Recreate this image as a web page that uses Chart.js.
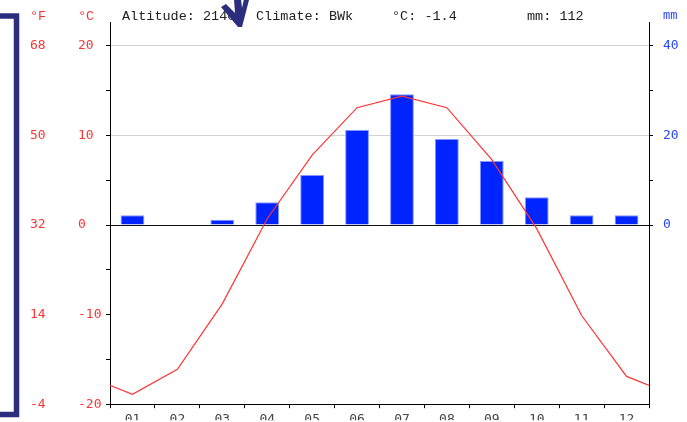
<!DOCTYPE html>
<html>
<head>
<meta charset="utf-8">
<script src="https://cdn.jsdelivr.net/npm/chart.js@4/dist/chart.umd.min.js"></script>
<style>
  html, body { margin: 0; padding: 0; background: #fff; overflow: hidden; }
  #wrap { position: relative; width: 687px; height: 422px; }
</style>
</head>
<body>
<div id="wrap"><canvas id="c" width="687" height="422"></canvas></div>
<script>
// Monthly climate data
const months = ['01', '02', '03', '04', '05', '06', '07', '08', '09', '10', '11', '12'];
const temperature = [-18.9, -16.1, -8.8, 0.7, 7.8, 13.1, 14.4, 13.1, 7.3, -0.4, -10.1, -16.9];
const precipitation = [2.2, 0, 1.2, 5.1, 11.2, 21.2, 29.2, 19.2, 14.3, 6.2, 2.2, 2.2];

// Axis ticks
const tempTicks = [-20, -15, -10, -5, 0, 5, 10, 15, 20];
const tempLabelTicks = [-20, -10, 0, 10, 20];
const precipTicks = [0, 10, 20, 30, 40];
const precipLabelTicks = [0, 20, 40];

// Station header
const altitude = '2140';
const climateClass = 'BWk';
const meanTemp = '-1.4';
const totalPrecip = '112';

const RED = 'rgb(255,52,52)';
const BLUE = 'rgb(40,70,255)';
const NAVY = '#2b2d7e';
const TICK_FONT = { family: 'DejaVu Sans Mono', size: 13 };

// Temperature polyline, wrapped around the year so it runs to both plot edges
const tempPoints = [{ x: -0.5, y: temperature[11] }]
  .concat(temperature.map((t, i) => ({ x: i + 0.5, y: t })))
  .concat([{ x: 12.5, y: temperature[0] }]);

const TEMP_MIN = -20, TEMP_MAX = 20 + 24 / 9;
const PREC_MIN = -40, PREC_MAX = 40 + 24 / 4.5;

const overlay = {
  id: 'overlay',
  afterDraw(chart) {
    const ctx = chart.ctx;
    ctx.save();
    ctx.textBaseline = 'middle';
    ctx.textAlign = 'left';
    ctx.font = '13.5px "Liberation Mono"';
    ctx.fillStyle = RED;
    ctx.fillText('°F', 30, 16);
    ctx.fillText('°C', 78, 16);
    ctx.fillStyle = '#222';
    ctx.fillText('Altitude: ' + altitude, 122, 16);
    ctx.fillText('Climate: ' + climateClass, 256, 16);
    ctx.fillText('°C: ' + meanTemp, 392, 16);
    ctx.fillText('mm: ' + totalPrecip, 527, 16);
    ctx.fillStyle = BLUE;
    ctx.font = '12px "Liberation Mono"';
    ctx.fillText('mm', 663, 16);

    // bracket on the left
    ctx.strokeStyle = NAVY;
    ctx.lineWidth = 5.5;
    ctx.lineJoin = 'miter';
    ctx.beginPath();
    ctx.moveTo(-5, 16);
    ctx.lineTo(16.5, 16);
    ctx.lineTo(16.5, 414.5);
    ctx.lineTo(-5, 414.5);
    ctx.stroke();

    // arrow
    ctx.fillStyle = NAVY;
    ctx.beginPath();
    ctx.moveTo(221, 7);
    ctx.lineTo(226, 4);
    ctx.lineTo(235, 13);
    ctx.lineTo(234, -1);
    ctx.lineTo(241, -1);
    ctx.lineTo(242, 8);
    ctx.lineTo(244, -1);
    ctx.lineTo(249, 0);
    ctx.lineTo(242, 27);
    ctx.lineTo(238, 27);
    ctx.closePath();
    ctx.fill();
    ctx.restore();
  }
};

new Chart(document.getElementById('c'), {
  type: 'line',
  data: {
    labels: months,
    datasets: [
      {
        type: 'line',
        data: tempPoints,
        xAxisID: 'x2',
        yAxisID: 'yT',
        borderColor: RED,
        borderWidth: 1.2,
        pointRadius: 0,
        tension: 0,
        fill: false,
        order: 1
      },
      {
        type: 'bar',
        data: precipitation,
        xAxisID: 'x',
        yAxisID: 'yP',
        backgroundColor: 'rgb(0,36,255)',
        borderColor: 'rgb(130,150,255)',
        borderWidth: 1,
        barPercentage: 0.53,
        categoryPercentage: 1,
        grouped: false,
        order: 2
      }
    ]
  },
  options: {
    responsive: false,
    animation: false,
    devicePixelRatio: 1,
    layout: { padding: { top: 22, left: 30, right: 0, bottom: 0 } },
    plugins: { legend: { display: false }, tooltip: { enabled: false } },
    scales: {
      x: {
        type: 'category',
        position: 'bottom',
        offset: true,
        grid: { offset: true, drawOnChartArea: false, tickLength: 4, color: '#000' },
        border: { color: '#000' },
        ticks: { color: '#444', font: TICK_FONT, padding: 4, maxRotation: 0, autoSkip: false },
        afterFit(s) { s.height = 16; }
      },
      x2: { type: 'linear', min: 0, max: 12, offset: false, display: false, grid: { offset: false } },
      yF: {
        type: 'linear',
        position: 'left',
        weight: 1,
        min: TEMP_MIN,
        max: TEMP_MAX,
        afterBuildTicks(s) { s.ticks = tempLabelTicks.map(v => ({ value: v })); },
        ticks: {
          color: RED,
          font: TICK_FONT,
          crossAlign: 'far',
          callback: v => String(Math.round(v * 9 / 5 + 32))
        },
        grid: { display: false },
        border: { display: false },
        afterFit(s) { s.width = 48; }
      },
      yT: {
        type: 'linear',
        position: 'left',
        weight: 0,
        min: TEMP_MIN,
        max: TEMP_MAX,
        afterBuildTicks(s) { s.ticks = tempTicks.map(v => ({ value: v })); },
        ticks: {
          color: RED,
          font: TICK_FONT,
          crossAlign: 'far',
          callback: v => tempLabelTicks.includes(v) ? String(v) : ''
        },
        grid: {
          tickLength: 4,
          tickColor: '#000',
          lineWidth: 1,
          color: c => {
            const v = c.tick && c.tick.value;
            if (v === 0) return '#111';
            if (v === 10 || v === 20) return '#d2d2d2';
            return 'rgba(0,0,0,0)';
          }
        },
        border: { color: '#000' },
        afterFit(s) { s.width = 32; }
      },
      yP: {
        type: 'linear',
        position: 'right',
        min: PREC_MIN,
        max: PREC_MAX,
        afterBuildTicks(s) { s.ticks = precipTicks.map(v => ({ value: v })); },
        ticks: {
          color: BLUE,
          font: TICK_FONT,
          padding: 10,
          callback: v => precipLabelTicks.includes(v) ? String(v) : ''
        },
        grid: { drawOnChartArea: false, tickLength: 4, tickColor: '#000', color: '#000' },
        border: { color: '#000' },
        afterFit(s) { s.width = 38; }
      }
    }
  },
  plugins: [overlay]
});
</script>
</body>
</html>
